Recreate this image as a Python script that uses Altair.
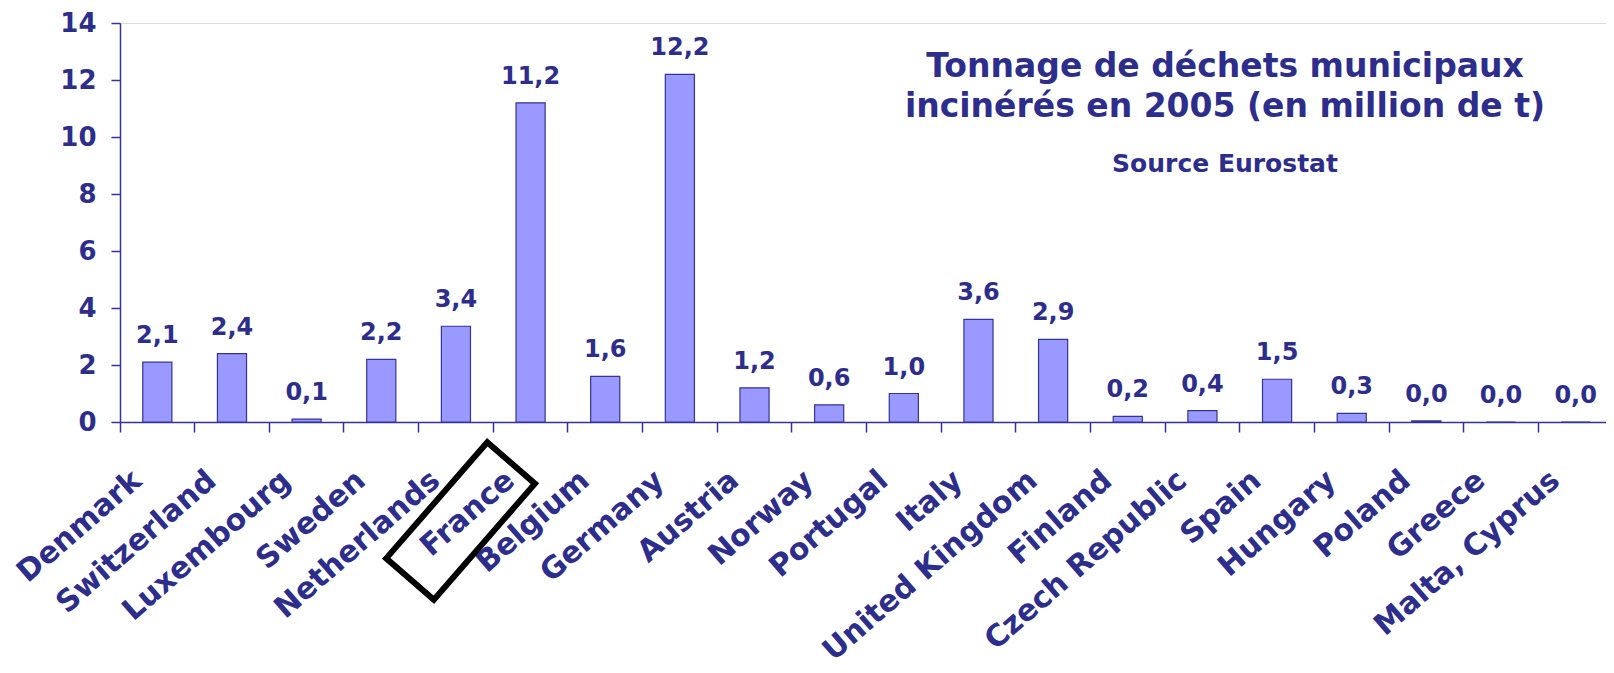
import altair as alt
import pandas as pd

countries = ["Denmark", "Switzerland", "Luxembourg", "Sweden", "Netherlands",
             "France", "Belgium", "Germany", "Austria", "Norway", "Portugal",
             "Italy", "United Kingdom", "Finland", "Czech Republic", "Spain",
             "Hungary", "Poland", "Greece", "Malta, Cyprus"]
values = [2.1, 2.4, 0.1, 2.2, 3.36, 11.2, 1.6, 12.2, 1.2, 0.6, 1.0,
          3.6, 2.9, 0.2, 0.4, 1.5, 0.3, 0.04, 0.0, 0.0]
y_ticks = [0, 2, 4, 6, 8, 10, 12, 14]
title_lines = ["Tonnage de déchets municipaux", "incinérés en 2005 (en million de t)"]
subtitle_text = "Source Eurostat"
highlight = ["France"]

df = pd.DataFrame({"country": countries, "value": values})
hl = pd.DataFrame({"country": highlight})

W, H = 1486, 399
FONT = "DejaVu Sans"
TXT = "#2D2D8C"
AX = "#333399"

xscale = alt.Scale(domain=countries, range=[0, 1493], paddingInner=0, paddingOuter=0)
xaxis = alt.Axis(title=None, bandPosition=0, labelAngle=-41, labelAlign="right",
                 labelBaseline="middle", labelOffset=-20, labelPadding=44,
                 tickSize=10, labelFont=FONT, labelFontSize=30, labelFontWeight="bold",
                 labelColor=TXT, domainColor=AX, tickColor=AX, domainWidth=1.5,
                 tickWidth=1.5, labelOverlap=False, labelLimit=0, grid=False)
x = alt.X("country:N", sort=countries, scale=xscale, axis=xaxis)
y = alt.Y("value:Q", scale=alt.Scale(domain=[0, 14], nice=False, zero=True),
          axis=alt.Axis(title=None, values=y_ticks, grid=False, tickSize=9,
                        labelPadding=15, labelFont=FONT, labelFontSize=26,
                        labelFontWeight="bold", labelColor=TXT, domainColor=AX,
                        tickColor=AX, domainWidth=1.5, tickWidth=1.5))

base = alt.Chart(df)

bars = base.mark_bar(width=alt.RelativeBandSize(0.39), fill="#9999FF",
                     stroke=AX, strokeWidth=1.2).encode(x=x, y=y)

labels = base.transform_calculate(
    label="replace(format(datum.value, '.1f'), '.', ',')"
).mark_text(dy=-19, baseline="alphabetic", font=FONT, fontSize=24,
            fontWeight="bold", color=TXT).encode(x=x, y=y, text="label:N")

box = alt.Chart(hl).mark_point(
    shape="M-1,-0.41L1,-0.41L1,0.41L-1,0.41Z", size=23716, angle=311,
    filled=False, stroke="black", strokeWidth=6, opacity=1, xOffset=-70
).encode(x=x, y=alt.value(498))

chart = alt.layer(bars, labels, box).properties(
    width=W, height=H,
    padding={"left": 112, "top": 15, "right": 0, "bottom": 240},
    autosize=alt.AutoSizeParams(type="none"),
    title=alt.TitleParams(
        text=title_lines, subtitle=subtitle_text, anchor="middle", frame="group",
        dx=362, dy=167, offset=0, font=FONT, fontSize=33, fontWeight="bold",
        color=TXT, lineHeight=40, subtitleFont=FONT, subtitleFontSize=25,
        subtitleFontWeight="bold", subtitleColor=TXT, subtitlePadding=28),
).configure_view(stroke=None).configure(background="white")

chart.save("out.html", embed_options={"renderer": "svg", "actions": False})
